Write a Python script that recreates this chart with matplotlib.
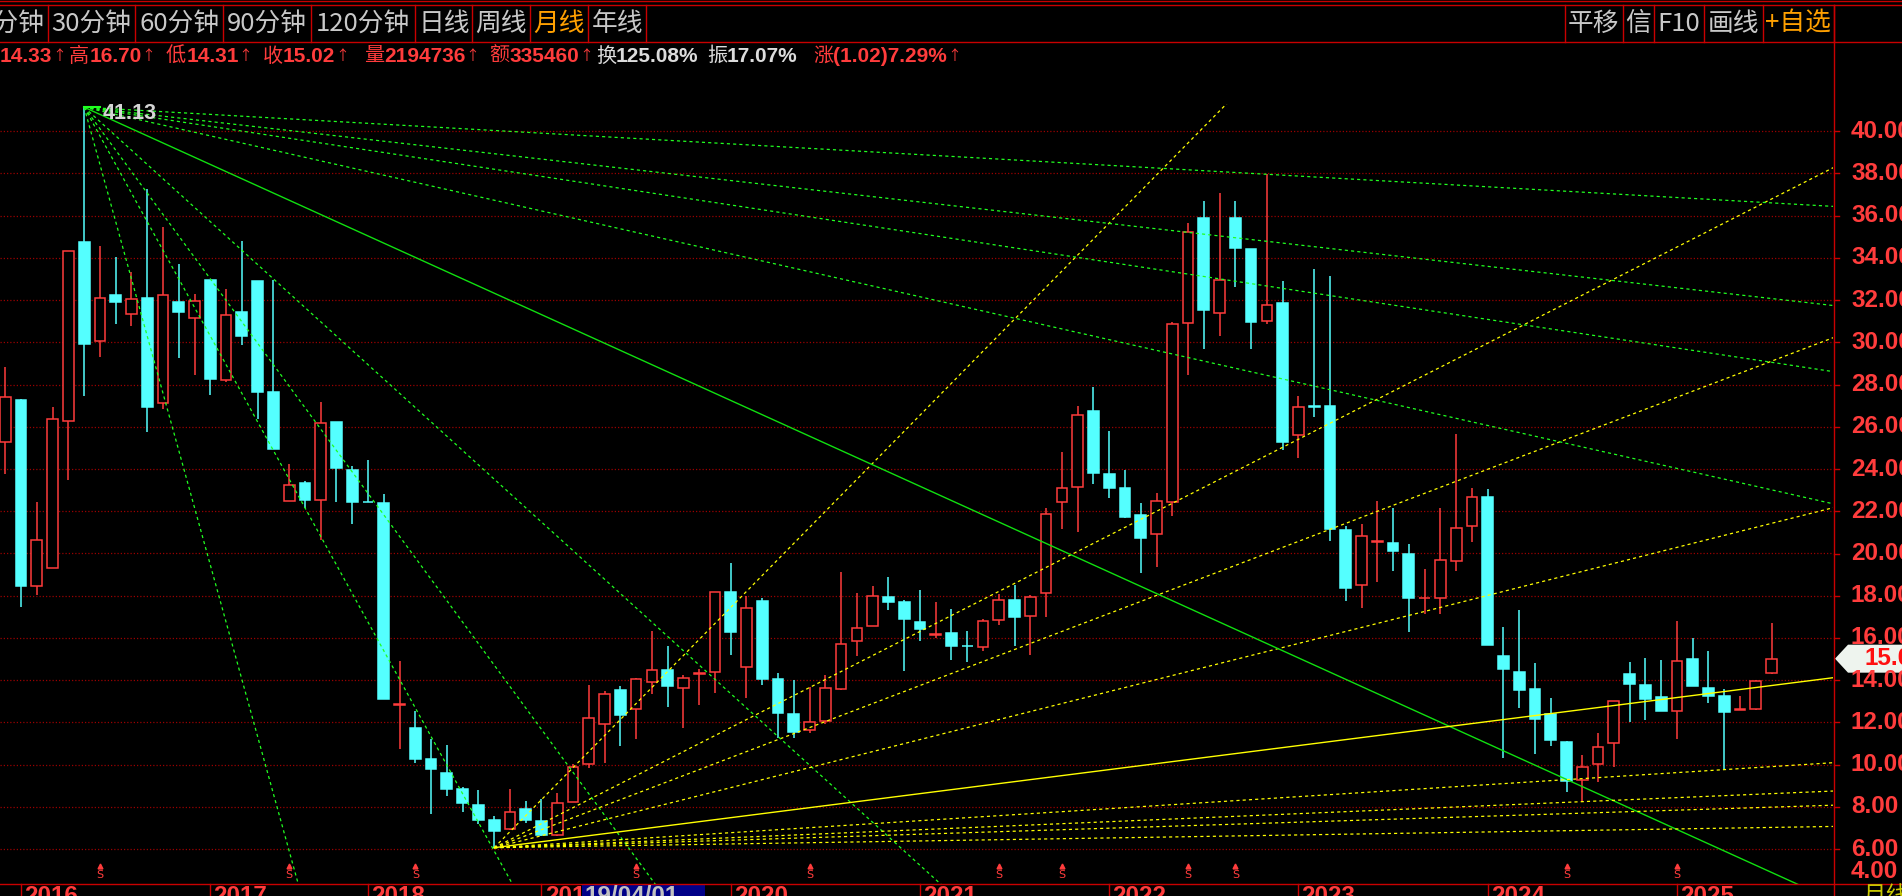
import matplotlib
matplotlib.use('Agg')
import matplotlib.pyplot as plt
import matplotlib.transforms as mtrans
from matplotlib.lines import Line2D
from matplotlib.patches import Polygon, Rectangle
import numpy as np

plt.rcParams['font.family'] = ['Noto Sans CJK SC', 'DejaVu Sans']

W, H = 1902, 896

# monthly candles, Dec 2015 .. Jul 2025 (with suspended months missing)
opens = [25.29, 27.27, 18.44, 19.32, 26.29, 34.75, 30.04, 32.24, 31.36, 32.10,
         27.11, 31.91, 31.17, 32.96, 28.23, 31.43, 32.91, 27.63, 22.50, 23.33,
         22.55, 26.22, 23.95, 22.45, 22.38, 12.83, 11.73, 10.25, 9.63, 8.86,
         8.08, 7.36, 6.95, 7.88, 7.34, 6.67, 8.24, 10.01, 11.92, 13.54,
         12.64, 13.93, 14.50, 13.61, 14.31, 14.40, 18.20, 14.64, 17.75, 14.07,
         12.40, 11.63, 12.06, 13.59, 15.86, 16.58, 17.94, 17.70, 16.74, 16.15,
         16.22, 15.62, 15.57, 16.86, 17.82, 17.03, 18.13, 22.43, 23.17, 26.75,
         23.76, 23.09, 21.80, 20.90, 22.45, 30.93, 35.89, 31.40, 35.87, 34.41,
         31.02, 31.86, 25.60, 26.98, 26.98, 21.11, 18.49, 20.54, 20.49, 19.97,
         17.87, 17.87, 19.66, 21.30, 22.67, 15.17, 14.40, 13.57, 12.42, 11.06,
         9.29, 10.01, 11.01, 14.31, 13.78, 13.21, 12.54, 15.02, 13.64, 13.26,
         12.59, 12.64, 14.33]
highs = [28.83, 27.30, 22.43, 26.94, 34.32, 41.13, 34.56, 34.03, 33.31, 37.28,
         35.46, 33.70, 32.29, 32.96, 32.53, 34.79, 32.91, 32.96, 24.24, 23.43,
         27.15, 26.22, 24.15, 24.41, 22.81, 14.90, 12.52, 11.23, 10.92, 8.96,
         8.82, 7.55, 8.86, 8.27, 8.39, 8.65, 10.01, 13.78, 13.50, 13.71,
         14.12, 16.31, 15.60, 14.26, 14.55, 18.18, 19.56, 17.98, 17.87, 14.35,
         14.02, 13.66, 14.24, 19.11, 18.13, 18.46, 18.87, 17.82, 18.25, 17.70,
         17.36, 16.31, 16.89, 18.08, 18.49, 18.03, 22.14, 24.79, 26.99, 27.87,
         25.79, 23.95, 22.38, 22.86, 30.97, 35.65, 36.70, 37.06, 36.70, 34.41,
         37.95, 32.88, 27.44, 33.48, 33.15, 21.30, 21.42, 22.50, 22.16, 20.44,
         19.25, 22.14, 25.65, 23.09, 23.05, 16.53, 17.32, 14.81, 13.14, 11.13,
         10.44, 11.49, 13.02, 14.86, 15.07, 14.98, 16.79, 15.98, 15.36, 13.59,
         13.26, 14.02, 16.70]
lows = [23.76, 17.48, 18.03, 19.30, 23.50, 27.44, 29.30, 30.85, 30.78, 25.77,
        26.82, 29.28, 28.47, 27.51, 28.11, 29.88, 26.37, 24.96, 22.50, 22.14,
        20.66, 22.45, 21.40, 22.43, 13.11, 10.75, 10.10, 7.67, 8.53, 7.77,
        7.17, 6.07, 6.90, 7.26, 6.62, 6.62, 8.24, 9.84, 10.08, 10.89,
        11.23, 13.35, 12.71, 11.75, 12.83, 13.40, 15.21, 13.16, 13.78, 11.28,
        11.28, 11.51, 11.94, 13.54, 15.14, 16.58, 17.34, 14.43, 15.86, 16.00,
        14.95, 14.86, 15.38, 16.62, 15.62, 15.21, 17.01, 21.16, 21.02, 23.31,
        22.64, 21.66, 19.08, 19.35, 21.78, 28.44, 29.66, 30.28, 32.60, 29.66,
        30.88, 24.91, 24.53, 26.44, 20.61, 17.77, 17.41, 18.65, 19.18, 16.29,
        17.15, 17.15, 19.18, 20.54, 15.67, 10.32, 12.68, 10.51, 10.89, 8.72,
        8.29, 9.20, 9.91, 12.00, 12.11, 12.54, 11.23, 13.71, 12.92, 9.82,
        12.59, 12.59, 14.31]
closes = [27.39, 18.44, 20.63, 26.39, 34.32, 29.92, 32.12, 31.93, 32.07, 26.96,
          32.24, 31.45, 31.95, 28.28, 31.31, 30.28, 27.66, 24.96, 23.26, 22.55,
          26.20, 24.05, 22.45, 22.43, 13.11, 12.87, 10.27, 9.79, 8.84, 8.19,
          7.38, 6.86, 7.77, 7.38, 6.67, 8.17, 9.89, 12.21, 13.35, 12.35,
          14.07, 14.50, 13.73, 14.12, 14.35, 18.18, 16.29, 17.41, 14.07, 12.45,
          11.56, 12.02, 13.64, 15.72, 16.48, 17.98, 17.72, 16.91, 16.43, 16.19,
          15.62, 15.60, 16.81, 17.82, 17.01, 17.94, 21.85, 23.12, 26.58, 23.79,
          23.12, 21.73, 20.75, 22.50, 30.88, 35.22, 31.55, 32.93, 34.48, 30.97,
          31.76, 25.29, 26.92, 26.94, 21.14, 18.37, 20.83, 20.58, 20.13, 17.87,
          17.91, 19.68, 21.23, 22.69, 15.67, 14.55, 13.54, 12.16, 11.18, 9.25,
          9.89, 10.85, 13.02, 13.83, 13.11, 12.54, 14.90, 13.71, 13.26, 12.49,
          12.63, 13.97, 15.02]

# year separators: (candle index, label)
year_starts = [(1, '2016'), (13, '2017'), (23, '2018'), (34, '201'), (46, '2020'),
               (58, '2021'), (70, '2022'), (82, '2023'), (94, '2024'), (106, '2025')]
s_marks = [6, 18, 26, 40, 51, 63, 67, 75, 78, 99, 106]
price_levels = list(range(6, 42, 2))

# Gann fans
fan_ratios = [8, 4, 3, 2, 1, 1 / 2, 1 / 3, 1 / 4, 1 / 8]
green_origin = (5, 41.13)
green_unit = -0.3386
yellow_origin = (31, 6.07)
yellow_unit = 0.0948

toolbar = ['15分钟', '30分钟', '60分钟', '90分钟', '120分钟', '日线', '周线', '月线', '年线']
toolbar_edges = [0, 47.8, 135.3, 223.2, 311.2, 415.2, 472.3, 530.4, 588.4, 646.4]
tools_right = ['平移', '信', 'F10', '画线', '+自选']
tools_right_edges = [1565, 1622.5, 1654.3, 1704.2, 1762.6, 1833.6]
# info line pieces: (label, number, arrow, colour, x)
info = [('', '14.33', '↑', 'r', 0), ('高', '16.70', '↑', 'r', 67), ('低', '14.31', '↑', 'r', 166),
        ('收', '15.02', '↑', 'r', 263), ('量', '2194736', '↑', 'r', 364),
        ('额', '335460', '↑', 'r', 489), ('换', '125.08%', '', 'g', 590),
        ('振', '17.07%', '', 'g', 707), ('涨', '(1.02)7.29%', '↑', 'r', 813)]

RED = '#ff3c3c'
CYAN = '#54ffff'
GRID = '#9a0000'
LINE = '#c80000'
GRAY = '#c8c8c8'
AXFONT = ['Liberation Sans', 'DejaVu Sans']


def fx(x):
    return x / W


def fy(y):
    return 1 - y / H


fig = plt.figure(figsize=(W / 100, H / 100), dpi=100, facecolor='black')
ax = fig.add_axes([0, 12 / H, 1833 / W, 780 / H])
ax.set_facecolor('black')
x0, dx = 5.3, 15.77
ax.set_xlim((0 - x0) / dx, (1833 - x0) / dx)
ax.set_ylim(40 - (884 - 131.1) / 21.12, 40 + (131.1 - 104) / 21.12)
ax.set_axis_off()

for lv in price_levels:
    ax.axhline(lv, color=GRID, lw=0.9, ls=(0, (1, 1.6)), zorder=1)

# candles
n = len(closes)
idx = np.arange(n)
o = np.array(opens); c = np.array(closes); hi = np.array(highs); lo = np.array(lows)
up = c >= o
cols = np.where(up, RED, CYAN)
ax.vlines(idx, lo, hi, colors=cols, lw=1.1, zorder=2)
body_lo = np.minimum(o, c)
body_h = np.maximum(np.abs(c - o), 0.001)
ax.bar(idx[up], body_h[up], bottom=body_lo[up], width=0.68, facecolor='black',
       edgecolor=RED, lw=1.1, zorder=3)
ax.bar(idx[~up], body_h[~up], bottom=body_lo[~up], width=0.68, facecolor=CYAN,
       edgecolor=CYAN, lw=1.1, zorder=3)

# fans
for r in fan_ratios:
    ox, oy = green_origin
    xx = np.array([ox, 130.0])
    ys = oy + green_unit * r * (xx - ox)
    if r == 1:
        ax.plot(xx, ys, color='#10e010', lw=1.0, zorder=4)
    else:
        ax.plot(xx, ys, color='#20ff20', lw=0.9, ls=(0, (2.5, 2.5)), zorder=4)
    ox, oy = yellow_origin
    xx = np.array([ox, 130.0])
    ys = oy + yellow_unit * r * (xx - ox)
    if r == 1:
        ax.plot(xx, ys, color='#ffff00', lw=1.0, zorder=4)
    else:
        ax.plot(xx, ys, color='#ffff00', lw=0.9, ls=(0, (2.5, 2.5)), zorder=4)

ax.plot([green_origin[0], green_origin[0] + 1.0], [green_origin[1]] * 2,
        color='#20ff20', lw=1.5, zorder=4)
ax.text(green_origin[0] + 1.2, green_origin[1] - 0.3, '41.13', color='#d4d4d4',
        fontsize=15.5, fontweight='bold', va='center', ha='left', zorder=5,
        family=AXFONT)


# frame lines
def hline(y, x1=0, x2=W, color=LINE, lw=1.0):
    fig.add_artist(Line2D([fx(x1), fx(x2)], [fy(y), fy(y)], color=color, lw=lw))


def vline(x, y1, y2, color=LINE, lw=1.0):
    fig.add_artist(Line2D([fx(x), fx(x)], [fy(y1), fy(y2)], color=color, lw=lw))


hline(1.5)
hline(5)
hline(42)
hline(884)
vline(1833.5, 5, H)
for e in toolbar_edges[1:]:
    vline(e, 5, 42)
for e in tools_right_edges:
    vline(e, 5, 42)

for i, t in enumerate(toolbar):
    col = '#ffa000' if t == '月线' else GRAY
    if i == 0:
        fig.text(fx(toolbar_edges[1] - 3), fy(24), t, color=col, fontsize=18.5,
                 ha='right', va='center')
    else:
        cx = (toolbar_edges[i] + toolbar_edges[i + 1]) / 2
        fig.text(fx(cx), fy(24), t, color=col, fontsize=18.5, ha='center', va='center')
for i, t in enumerate(tools_right):
    cx = (tools_right_edges[i] + tools_right_edges[i + 1]) / 2
    col = '#ffa000' if '自选' in t else GRAY
    fig.text(fx(cx), fy(24), t, color=col, fontsize=18.5, ha='center', va='center')

# info line, laid out piece by piece, never overlapping the previous piece
fig.canvas.draw()
rend = fig.canvas.get_renderer()
prev_end = -10
for lab, num, arr, cc, x in info:
    col = RED if cc == 'r' else '#dcdcdc'
    cur = max(x, prev_end + 3)
    for part, wt, fs, fam in [(lab, 'normal', 14.5, None), (num, 'bold', 15, AXFONT),
                              (arr, 'normal', 10, None)]:
        if not part:
            continue
        kw = {'family': fam} if fam else {}
        t = fig.text(fx(cur), fy(56), part, color=col, fontsize=fs, fontweight=wt,
                     ha='left', va='center', **kw)
        cur += t.get_window_extent(rend).width
    prev_end = cur

# right price axis
for lv in price_levels:
    y = 131.1 + (40 - lv) * 21.12
    hline(y, 1833.5, 1839)
    fig.text(fx(1851), fy(y), f'{lv:.2f}', color=RED, fontsize=17.5, fontweight='bold',
             ha='left', va='center', family=AXFONT)
fig.text(fx(1851), fy(871), '4.00', color=RED, fontsize=17.5, fontweight='bold',
         ha='left', va='center', family=AXFONT)

last = closes[-1]
yl = 131.1 + (40 - last) * 21.12
fig.add_artist(Polygon([(fx(1835), fy(yl)), (fx(1848), fy(yl - 14)), (fx(W), fy(yl - 14)),
                        (fx(W), fy(yl + 14)), (fx(1848), fy(yl + 14))], closed=True,
                       transform=fig.transFigure, facecolor='#eef4ee', edgecolor='none'))
fig.text(fx(1864), fy(yl), f'{last:.2f}', color='#ff1010', fontsize=17.5, fontweight='bold',
         ha='left', va='center', family=AXFONT)

# bottom time axis
tr = mtrans.blended_transform_factory(ax.transData, fig.transFigure)
for k, lab in year_starts:
    fig.add_artist(Line2D([k, k], [fy(884), fy(H)], color=LINE, lw=1.0, transform=tr))
    ax.text(k + 0.2, fy(885), lab, color=RED, fontsize=17.5, fontweight='bold', ha='left',
            va='top', transform=tr, clip_on=False, family=AXFONT)
fig.add_artist(Rectangle((fx(582), 0), fx(705) - fx(582), fy(885), transform=fig.transFigure,
                         facecolor='#000088', edgecolor='none'))
fig.text(fx(584), fy(885), '19/04/01', color='#c0c0c0', fontsize=17.5, fontweight='bold',
         ha='left', va='top', family=AXFONT)
fig.text(fx(1862), fy(885), '月线', color='#c8c800', fontsize=17, ha='left', va='top')

for k in s_marks:
    ax.plot([k], [fy(866)], marker='^', ms=3.5, color=RED, transform=tr, clip_on=False)
    ax.text(k, fy(875), 'S', color=RED, fontsize=8, ha='center', va='center',
            transform=tr, clip_on=False, family=['DejaVu Sans'])

fig.savefig('out.png', dpi=100, facecolor='black')
